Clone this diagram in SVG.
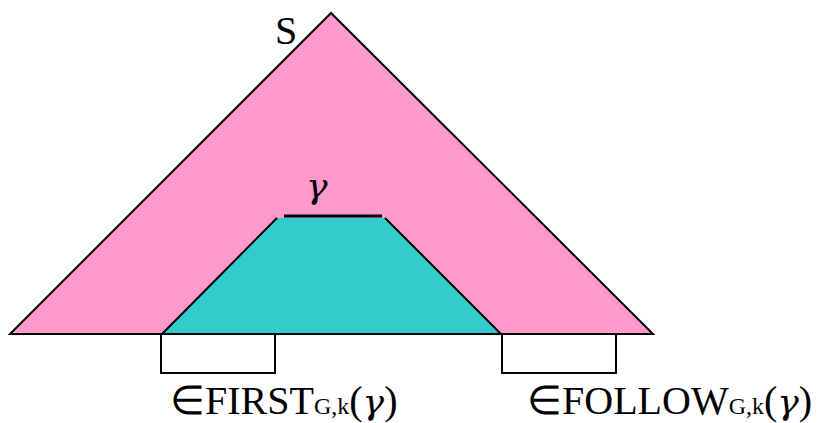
<svg xmlns="http://www.w3.org/2000/svg" width="828" height="423" viewBox="0 0 828 423">
<style>
.t{font-family:"Liberation Serif","Times New Roman",serif;font-size:40px;fill:#000}
.sub{font-size:24px}
.g{font-family:"DejaVu Serif","Liberation Serif",serif;font-style:italic;font-size:36px}
.ln{stroke:#000;stroke-width:2;fill:none}
</style>
<rect width="828" height="423" fill="#fff"/>
<g id="tree">
<polygon points="331,13 10,334 653,334" fill="#FF99CC" stroke="#000" stroke-width="2" stroke-linejoin="miter"/>
<text class="t" x="275" y="44">S</text>
</g>
<g id="subtree">
<polygon points="277,218 385,218 501,334 162,334" fill="#33CCCC"/>
<line class="ln" x1="277" y1="218" x2="162" y2="334"/>
<line class="ln" x1="385" y1="218" x2="501" y2="334"/>
<line class="ln" x1="10" y1="334" x2="653" y2="334"/>
<line x1="284" y1="216" x2="382" y2="216" stroke="#000" stroke-width="3"/>
<text class="t g" x="306" y="198">γ</text>
</g>
<g id="first">
<rect class="ln" x="161" y="334" width="114" height="39" fill="#fff"/>
<text class="t" x="170" y="414">∈FIRST<tspan class="sub">G,k</tspan>(<tspan class="g">γ</tspan>)</text>
</g>
<g id="follow">
<rect class="ln" x="502" y="334" width="114" height="39" fill="#fff"/>
<text class="t" x="527" y="414">∈FOLLOW<tspan class="sub">G,k</tspan>(<tspan class="g">γ</tspan>)</text>
</g>
</svg>
